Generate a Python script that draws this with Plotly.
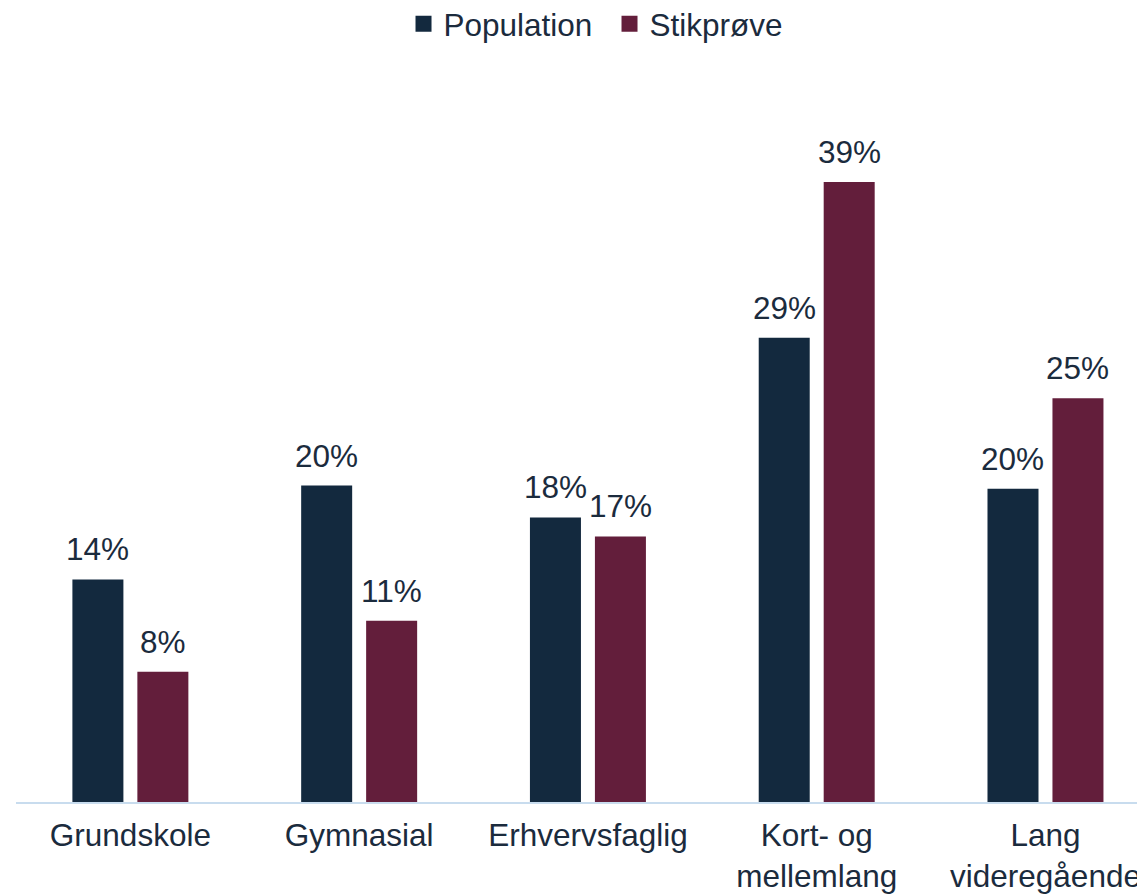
import plotly.graph_objects as go

categories = ["Grundskole", "Gymnasial", "Erhvervsfaglig", "Kort- og<br>mellemlang", "Lang<br>videregående"]
population = [14.0, 19.9, 17.9, 29.2, 19.7]
stikproeve = [8.2, 11.4, 16.7, 39.0, 25.4]
series_names = ["Population", "Stikprøve"]

navy = "#13293e"
maroon = "#631e3b"
text_color = "#1b2b3d"
font_family = "Liberation Sans, Arial, sans-serif"
fs = 31.5

fig = go.Figure()
for name, vals, col in [(series_names[0], population, navy), (series_names[1], stikproeve, maroon)]:
    fig.add_trace(go.Bar(
        x=categories, y=vals, name=name, showlegend=False,
        marker=dict(color=col, line=dict(width=0)),
    ))
# value labels above bars
slot_px = 65
for vals, sign in [(population, -1), (stikproeve, 1)]:
    for cat, v in zip(categories, vals):
        fig.add_annotation(
            x=cat, y=v, xref="x", yref="y", text=f"{v:.0f}%", showarrow=False,
            xanchor="center", yanchor="bottom", xshift=sign * slot_px / 2, yshift=10,
            font=dict(size=fs, color=text_color, family=font_family),
        )
# legend entries with square markers
for name, col in [(series_names[0], navy), (series_names[1], maroon)]:
    fig.add_trace(go.Scatter(
        x=[None], y=[None], mode="markers", name=name,
        marker=dict(symbol="square", size=17, color=col),
    ))

fig.update_layout(
    width=1145, height=895,
    margin=dict(l=8, r=0, t=0, b=101, autoexpand=False),
    paper_bgcolor="white", plot_bgcolor="white",
    barmode="group", bargap=0.432, bargroupgap=0.215,
    font=dict(family=font_family, color=text_color, size=fs),
    showlegend=True,
    legend=dict(orientation="h", x=0.522, xanchor="center", y=0.98, yanchor="middle",
                font=dict(size=fs, color=text_color), itemwidth=30, tracegroupgap=0,
                entrywidth=161, bgcolor="rgba(0,0,0,0)"),
    xaxis=dict(range=[-0.5, 4.47], showgrid=False, showline=True, linecolor="#c8dcee",
               linewidth=2, ticks="", tickfont=dict(size=fs, color=text_color),
               ticklabelstandoff=4, automargin=False, fixedrange=True),
    yaxis=dict(range=[0, 49.94], showgrid=False, showticklabels=False, zeroline=False,
               showline=False, fixedrange=True, automargin=False),
)

fig.write_html("out.html")
